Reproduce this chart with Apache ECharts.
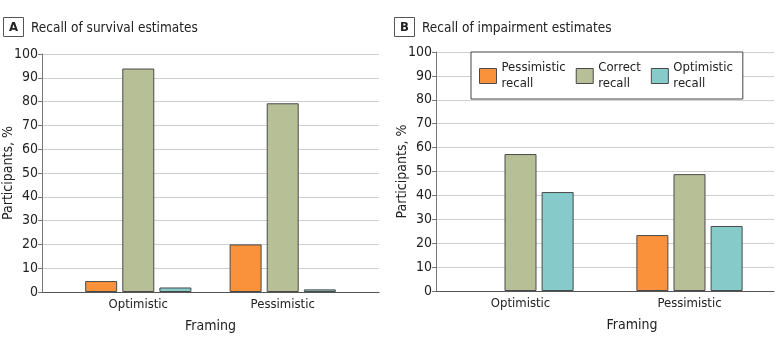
<!DOCTYPE html>
<html>
<head>
<meta charset="utf-8">
<script src="https://cdn.jsdelivr.net/npm/echarts@6/dist/echarts.min.js"></script>
<style>
  html, body { margin: 0; padding: 0; background: #fff; }
  #chartContainer { width: 783px; height: 352px; }
</style>
</head>
<body>
<div id="chartContainer"></div>
<script>
const framing = ['Optimistic', 'Pessimistic'];
const recallNames = ['Pessimistic\nrecall', 'Correct\nrecall', 'Optimistic\nrecall'];
const recallKeys = ['Pessimistic recall', 'Correct recall', 'Optimistic recall'];
const yTicks = [0, 100, 10];

// panel A: survival estimates (per framing)
const survivalPessimistic = [4.6, 20.0];
const survivalCorrect = [93.9, 79.3];
const survivalOptimistic = [1.9, 1.1];

// panel B: impairment estimates
const impairPessimistic = [0, 23.4];
const impairCorrect = [57.3, 48.9];
const impairOptimistic = [41.4, 27.2];

const colors = ['#F9923A', '#B7BF97', '#87CACA'];
const FONT = '"Liberation Sans Narrow", "DejaVu Sans Condensed", Roboto, sans-serif';

let chart = null;

document.addEventListener('DOMContentLoaded', function() {
    chart = echarts.init(document.getElementById('chartContainer'));
    drawChart();
});

function yAxisFor(gridIndex, gap) {
    return {
        type: 'value', gridIndex: gridIndex,
        min: yTicks[0], max: yTicks[1], interval: yTicks[2],
        name: 'Participants, %', nameLocation: 'middle', nameGap: gap,
        nameMoveOverlap: false,
        nameTextStyle: { fontFamily: FONT, fontSize: 14, color: '#222' },
        axisLine: { show: true, lineStyle: { color: '#777', width: 1 } },
        axisTick: { show: true, length: 4, lineStyle: { color: '#777' } },
        axisLabel: { fontFamily: FONT, fontSize: 14, color: '#222', margin: 4 },
        splitLine: { show: true, lineStyle: { color: '#cfcfcf', width: 1.2 } }
    };
}

function barSeries(name, idx, data, axisIndex) {
    return {
        name: name, type: 'bar',
        xAxisIndex: axisIndex, yAxisIndex: axisIndex,
        data: data,
        barWidth: 32, barGap: '16%',
        itemStyle: { color: colors[idx], borderColor: '#4a4a4a', borderWidth: 1 }
    };
}

function drawChart() {
    // left panel uses a value base axis so the groups sit where the reference puts them
    const posA = framing.map((f, i) => 1 + i * 1.5);
    const survival = [survivalPessimistic, survivalCorrect, survivalOptimistic];
    const impair = [impairPessimistic, impairCorrect, impairOptimistic];

    const series = [];
    survival.forEach((vals, k) => {
        series.push(barSeries(recallKeys[k], k, vals.map((v, i) => [posA[i], v]), 0));
    });
    impair.forEach((vals, k) => {
        // a zero share draws no bar at all in the reference
        series.push(barSeries(recallKeys[k], k, vals.map(v => v === 0 ? '-' : v), 1));
    });

    const option = {
        animation: false,
        textStyle: { fontFamily: FONT },
        title: [
            { text: 'A', left: 3, top: 17, padding: [4, 6, 3, 6], borderColor: '#555', borderWidth: 1,
              textStyle: { fontFamily: FONT, fontSize: 13, fontWeight: 'bold', color: '#222' } },
            { text: 'Recall of survival estimates', left: 31, top: 19, padding: [2, 0],
              textStyle: { fontFamily: FONT, fontSize: 13.5, fontWeight: 'normal', color: '#222' } },
            { text: 'B', left: 394, top: 17, padding: [4, 6, 3, 6], borderColor: '#555', borderWidth: 1,
              textStyle: { fontFamily: FONT, fontSize: 13, fontWeight: 'bold', color: '#222' } },
            { text: 'Recall of impairment estimates', left: 422, top: 19, padding: [2, 0],
              textStyle: { fontFamily: FONT, fontSize: 13.5, fontWeight: 'normal', color: '#222' } }
        ],
        legend: {
            data: recallKeys,
            left: 471, top: 52,
            orient: 'horizontal',
            icon: 'rect',
            itemWidth: 17, itemHeight: 15, itemGap: 10,
            padding: [8, 10, 7, 8],
            backgroundColor: '#fff', borderColor: '#444', borderWidth: 1,
            formatter: name => recallNames[recallKeys.indexOf(name)],
            itemStyle: { borderColor: '#4a4a4a', borderWidth: 1 },
            textStyle: { fontFamily: FONT, fontSize: 13, color: '#222', lineHeight: 16 },
            z: 10
        },
        grid: [
            { left: 42, right: 404, top: 54, bottom: 60, outerBoundsMode: 'none' },
            { left: 436, right: 9, top: 52, bottom: 61, outerBoundsMode: 'none' }
        ],
        xAxis: [
            {
                type: 'value', gridIndex: 0, min: 0, max: 3.5,
                name: 'Framing', nameLocation: 'middle', nameGap: 27,
                nameMoveOverlap: false,
                nameTextStyle: { fontFamily: FONT, fontSize: 14, color: '#222' },
                axisLine: { show: true, lineStyle: { color: '#555', width: 1.2 } },
                axisTick: { show: false },
                splitLine: { show: false },
                axisLabel: {
                    customValues: posA,
                    formatter: v => framing[posA.indexOf(v)] || '',
                    fontFamily: FONT, fontSize: 13, color: '#222', margin: 6
                }
            },
            {
                type: 'category', gridIndex: 1, data: framing,
                name: 'Framing', nameLocation: 'middle', nameGap: 27,
                nameMoveOverlap: false,
                nameTextStyle: { fontFamily: FONT, fontSize: 14, color: '#222', padding: [0, 0, 0, 54] },
                axisLine: { show: true, lineStyle: { color: '#555', width: 1.2 } },
                axisTick: { show: false },
                axisLabel: { fontFamily: FONT, fontSize: 13, color: '#222', margin: 6 }
            }
        ],
        yAxis: [yAxisFor(0, 27), yAxisFor(1, 27)],
        series: series
    };

    chart.setOption(option);
}
</script>
</body>
</html>
